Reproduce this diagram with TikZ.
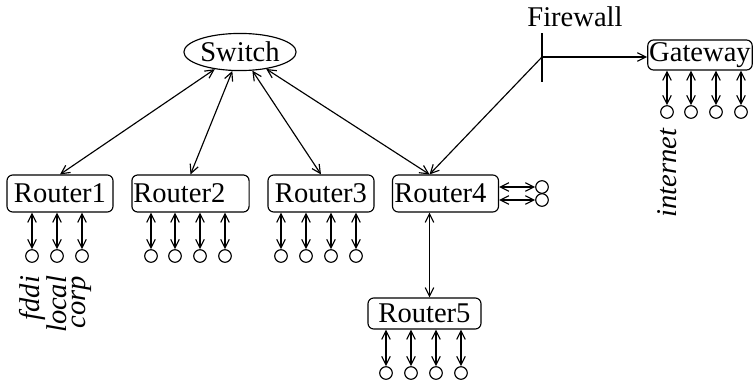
\documentclass[tikz,border=0pt]{standalone}
\usepackage{fontspec}
\setmainfont{Liberation Serif}
\usetikzlibrary{
  shapes.geometric,
  arrows.meta,
  positioning
}

\begin{document}
\begin{tikzpicture}[x=0.35pt, y=-0.35pt, >={Straight Barb[length=3pt,width=3pt]},
  router/.style={draw, rectangle, rounded corners=2pt, minimum width=37.1pt, minimum height=12.95pt, inner sep=0.5pt},
  stub/.style={circle, draw, minimum size=4.4pt, inner sep=0pt},
  tag/.style={rotate=90, font=\itshape}]
\useasboundingbox (0,0) rectangle (754,384);
\node[ellipse, draw, minimum width=37.1pt, minimum height=13pt, inner sep=0pt] (switch) at (240,52) {Switch};
\node[router] (r1) at (60,193.5) {Router1};
\node[router, text width=40pt, align=left] (r2) at (190.5,193.5) {Router2};
\node[router] (r3) at (321,193.5) {Router3};
\node[router, text width=35.75pt, align=left] (r4) at (445.5,193.5) {Router4};
\node[router, minimum width=39.55pt, minimum height=10.85pt] (r5) at (424.5,313.5) {Router5};
\node[router, minimum width=36.4pt, minimum height=10.5pt] (gw) at (700,55) {Gateway};
% firewall
\coordinate (fw) at (542,57);
\node (fwlabel) at (575,17) {Firewall};
\draw (fw) ++(0,-24) -- ++(0,49);
\draw[->] (fw) -- (fw -| gw.west);
\draw[->] (fw) -- (r4.130);
% switch links
\draw[<->] (switch) -- (r1.north);
\draw[<->] (switch) -- (r2.north);
\draw[<->] (switch) -- (r3.north);
\draw[<->] (switch) -- (r4.130);
\draw[<->] (r4.230) -- (r4.230 |- r5.north);
% hosts
\foreach \r/\y/\xs in {r1/256/{32,57,82}, r2/256/{151,175,200,225}, r3/256/{281,306,331,356},
    r5/373/{386,411,436,461}, gw/112/{667,691,716,741}} {
  \foreach \x [count=\i] in \xs {
    \node[stub] (\r s\i) at (\x,\y) {};
    \draw[<->] (\r.south -| \r s\i) -- (\r s\i);
  }
}
\node[stub] (r4a) at (542,187) {};
\node[stub] (r4b) at (542,200) {};
\draw[<->] (r4a -| r4.east) -- (r4a);
\draw[<->] (r4b -| r4.east) -- (r4b);
% names
\node[tag, below=1pt of r1s1, anchor=east] (fddi) {fddi};
\node[tag, below=1pt of r1s2, anchor=east] (local) {local};
\node[tag, below=1pt of r1s3, anchor=east] (corp) {corp};
\node[tag, below=0pt of gws1, anchor=east] (internet) {internet};
\end{tikzpicture}
\end{document}
